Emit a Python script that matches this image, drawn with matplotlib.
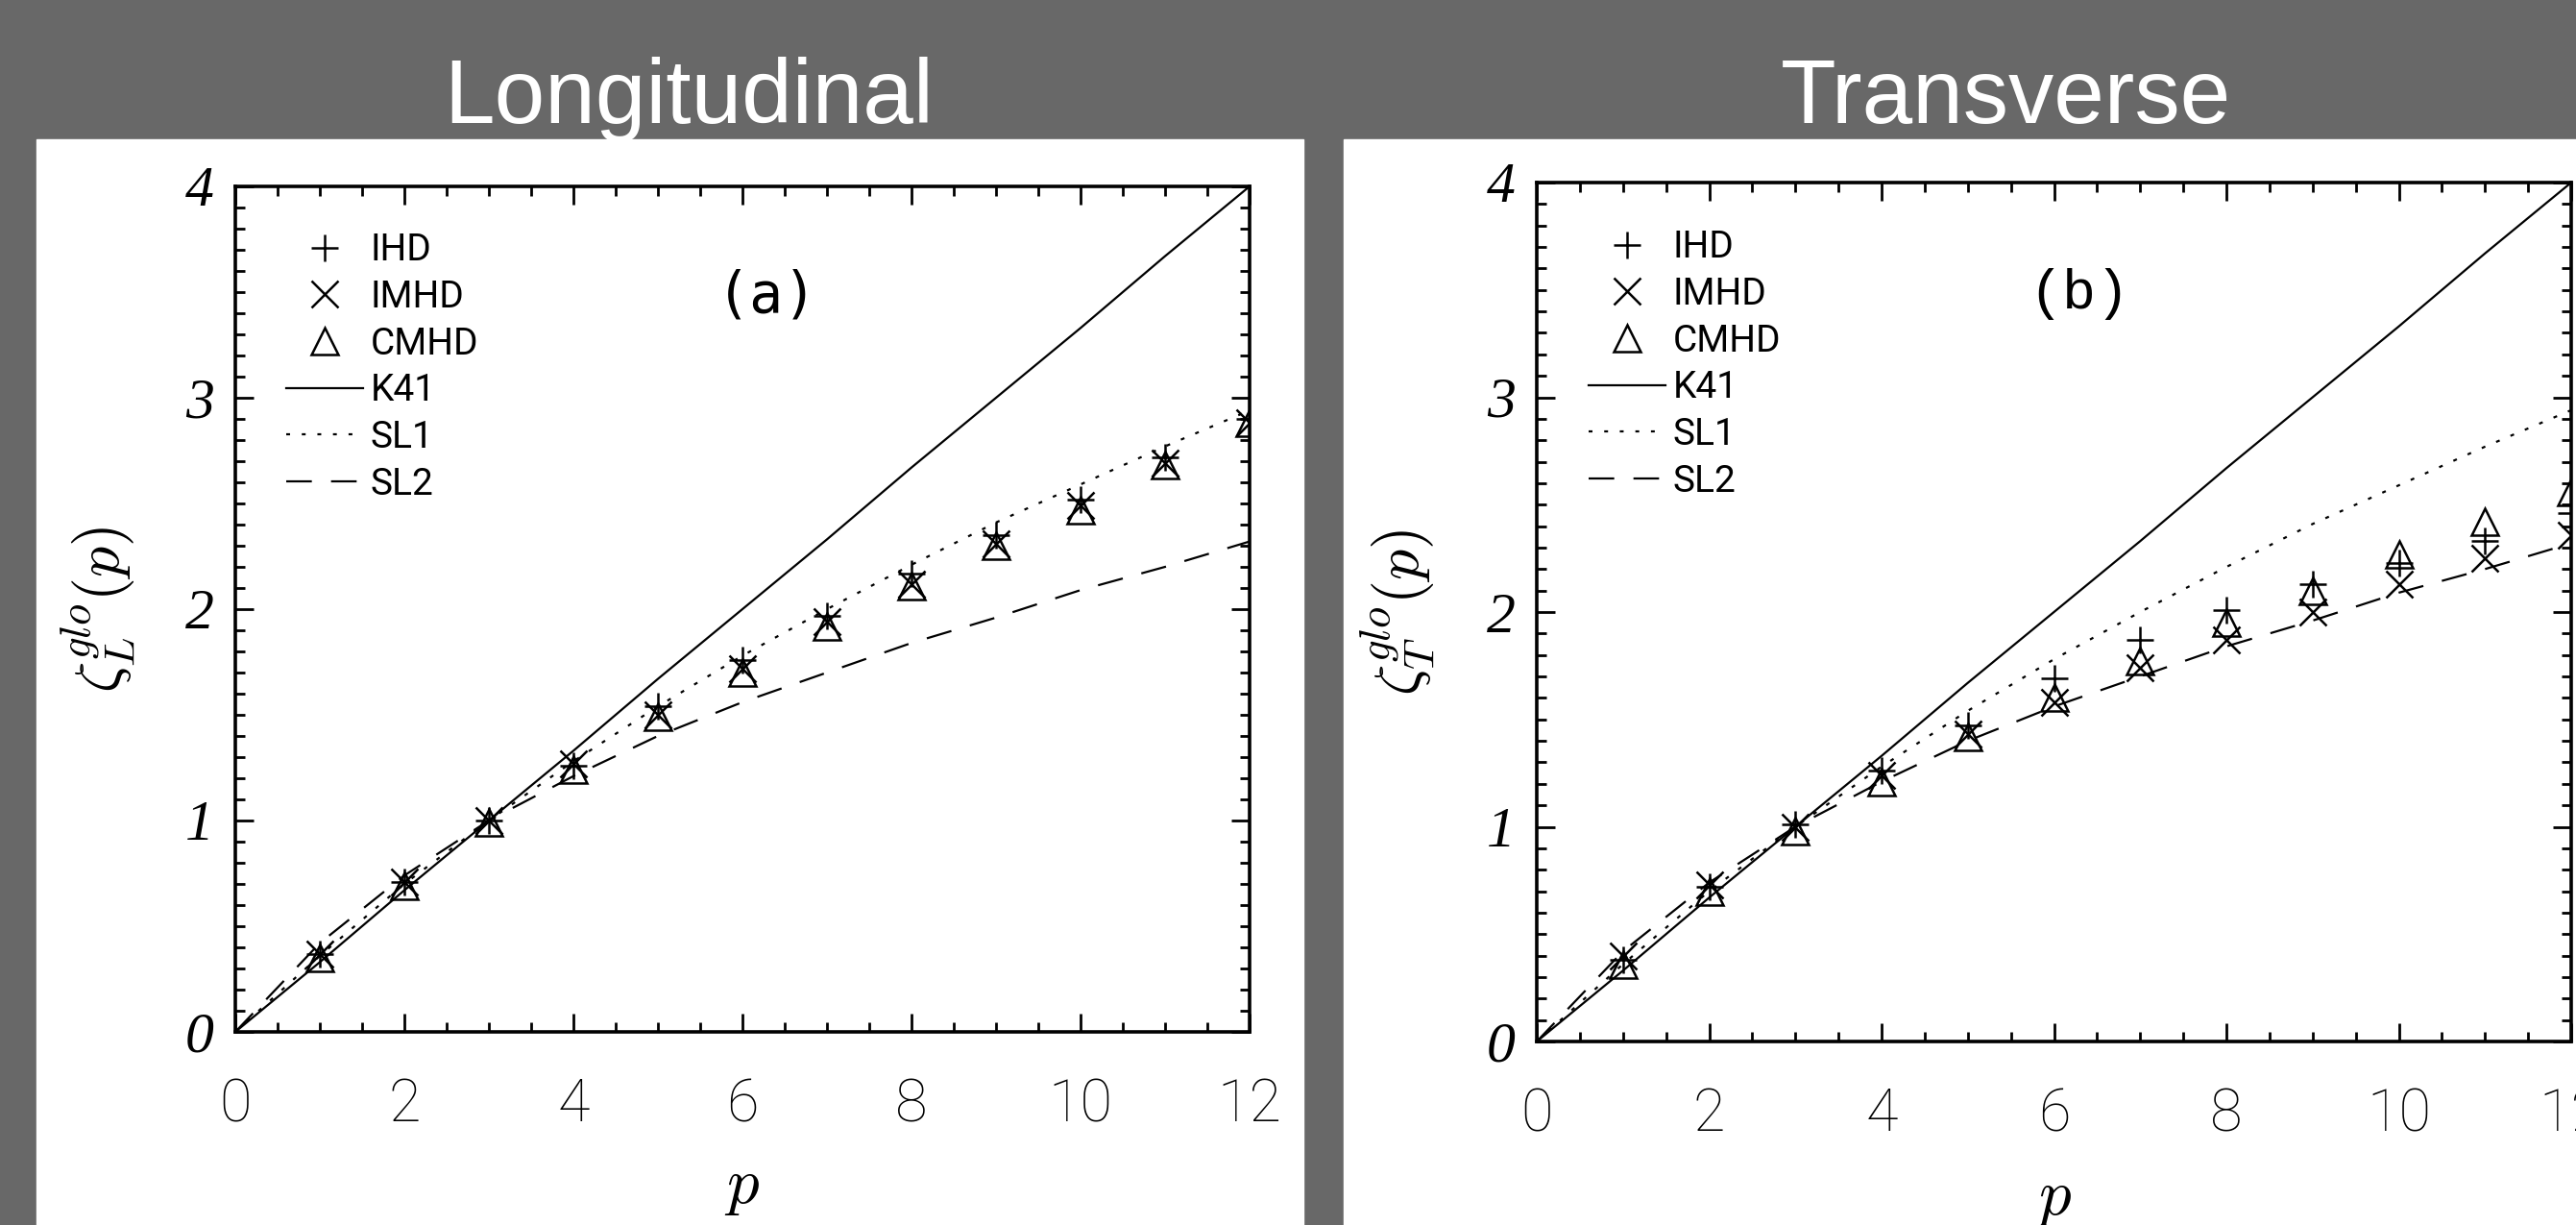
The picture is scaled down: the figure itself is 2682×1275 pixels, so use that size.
import matplotlib.pyplot as plt
from matplotlib.patches import Rectangle
from matplotlib.ticker import MultipleLocator
from matplotlib.transforms import ScaledTranslation

plt.rcParams['mathtext.fontset'] = 'cm'

# order p of the structure functions
p = [1, 2, 3, 4, 5, 6, 7, 8, 9, 10, 11, 12]
p_model = [0, 1, 2, 3, 4, 5, 6, 7, 8, 9, 10, 11, 12]

# longitudinal scaling exponents
ihd_long = [0.37, 0.71, 1.00, 1.26, 1.54, 1.76, 1.97, 2.17, 2.35, 2.52, 2.72, 2.90]
imhd_long = [0.37, 0.71, 1.00, 1.27, 1.50, 1.72, 1.94, 2.12, 2.31, 2.49, 2.69, 2.88]
cmhd_long = [0.35, 0.69, 0.99, 1.24, 1.49, 1.70, 1.92, 2.11, 2.30, 2.47, 2.68, 2.88]

# transverse scaling exponents
ihd_trans = [0.38, 0.72, 1.01, 1.26, 1.47, 1.69, 1.87, 2.01, 2.13, 2.23, 2.33, 2.46]
imhd_trans = [0.40, 0.73, 1.00, 1.24, 1.43, 1.58, 1.74, 1.87, 2.00, 2.13, 2.25, 2.36]
cmhd_trans = [0.36, 0.70, 0.98, 1.21, 1.42, 1.60, 1.77, 1.95, 2.10, 2.27, 2.42, 2.56]

# model predictions
k41 = [0.00, 0.33, 0.67, 1.00, 1.33, 1.67, 2.00, 2.33, 2.67, 3.00, 3.33, 3.67, 4.00]
sl1 = [0.00, 0.36, 0.70, 1.00, 1.28, 1.54, 1.78, 2.00, 2.21, 2.41, 2.59, 2.77, 2.94]
sl2 = [0.00, 0.42, 0.74, 1.00, 1.21, 1.40, 1.56, 1.70, 1.84, 1.96, 2.09, 2.20, 2.32]

panels = [
    ('Longitudinal', '(a)', 'DejaVu Sans Mono', r'$\zeta^{glo}_{L}(p)$',
     ihd_long, imhd_long, cmhd_long),
    ('Transverse', '(b)', 'Liberation Mono', r'$\zeta^{glo}_{T}(p)$',
     ihd_trans, imhd_trans, cmhd_trans),
]

W, H = 2682, 1275
fig = plt.figure(figsize=(W / 100, H / 100), dpi=100, facecolor='#686868')

# white boards behind each panel
fig.patches.append(Rectangle((38 / W, 0), 1319 / W, 1130 / H,
                             transform=fig.transFigure, color='white', zorder=-5))
fig.patches.append(Rectangle((1399 / W, 0), 1 - 1399 / W, 1130 / H,
                             transform=fig.transFigure, color='white', zorder=-5))

axes_rects = [
    [245 / W, 1 - 1074 / H, 1056 / W, 880 / H],
    [1600 / W, 1 - 1084 / H, 1077 / W, 894 / H],
]
title_x = [717 / W, 2089 / W]

mk = dict(ls='none', color='black', ms=20, mew=1.8)
for rect, tx, (title, tag, tagfont, ylab, ihd, imhd, cmhd) in zip(axes_rects, title_x, panels):
    fig.text(tx, 1 - 128 / H, title, ha='center', va='baseline', color='white',
             fontsize=68, family='Liberation Sans')

    ax = fig.add_axes(rect)
    ax.set_facecolor('none')
    ax.plot(p, ihd, marker='+', label='IHD', **mk)
    ax.plot(p, imhd, marker='x', label='IMHD', **mk)
    ax.plot(p, cmhd, marker='^', mfc='none', mec='black', label='CMHD', **mk)
    ax.plot(p_model, k41, color='black', lw=1.6, label='K41')
    ax.plot(p_model, sl1, color='black', lw=1.6, dashes=(1.8, 5.5), label='SL1')
    ax.plot(p_model, sl2, color='black', lw=1.6, dashes=(12, 9), label='SL2')

    ax.set_xlim(0, 12)
    ax.set_ylim(0, 4)
    ax.xaxis.set_major_locator(MultipleLocator(2))
    ax.xaxis.set_minor_locator(MultipleLocator(0.5))
    ax.yaxis.set_major_locator(MultipleLocator(1))
    ax.yaxis.set_minor_locator(MultipleLocator(0.1))
    ax.tick_params(which='both', direction='in', top=True, right=True, width=2)
    ax.tick_params(which='major', length=14)
    ax.tick_params(which='minor', length=7)
    ax.tick_params(axis='x', pad=34, labelsize=44)
    ax.tick_params(axis='y', pad=16, labelsize=43)
    for s in ax.spines.values():
        s.set_linewidth(2.6)

    for lab in ax.get_xticklabels():
        lab.set_family('Roboto')
        lab.set_weight('light')
    ylabels = ax.get_yticklabels()
    for lab in ylabels:
        lab.set_family('Liberation Serif')
        lab.set_style('italic')
    # keep the end labels inside the axis height
    ylabels[0].set_va('baseline')
    ylabels[-1].set_va('top')
    ylabels[-1].set_transform(ylabels[-1].get_transform()
                              + ScaledTranslation(0, -0.1, fig.dpi_scale_trans))

    ax.set_xlabel(r'$p$', fontsize=48)
    ax.xaxis.set_label_coords(0.5, -0.144)
    ax.set_ylabel(ylab, fontsize=46, va='center')
    ax.yaxis.set_label_coords(-0.135, 0.5)

    ax.text(0.524, 0.87, tag, transform=ax.transAxes, ha='center', va='center',
            fontsize=42, family=tagfont)

    ax.legend(loc='upper left', bbox_to_anchor=(0.05, 0.945), frameon=False,
              prop={'family': 'Roboto', 'size': 28},
              numpoints=1, handlelength=2.05, handletextpad=0.2, labelspacing=0.3,
              borderpad=0, borderaxespad=0)

fig.savefig('out.png', dpi=100, facecolor=fig.get_facecolor())
